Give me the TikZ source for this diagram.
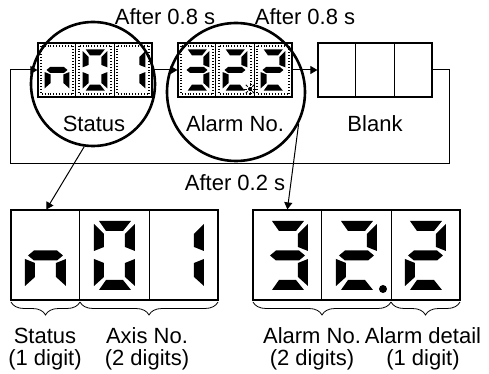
\documentclass[tikz,border=0pt]{standalone}
\usepackage{fontspec}
\setmainfont{Liberation Sans}
\usetikzlibrary{arrows.meta,positioning,calc,decorations.pathreplacing}

% seven segments, digit box 41 x 69 (y runs down)
\newcommand{\lcdsega}{(5,0) -- (37,0) -- (29,10) -- (12,10) -- cycle}
\newcommand{\lcdsegb}{(41,3) -- (41,30) -- (31,26) -- (31,13) -- cycle}
\newcommand{\lcdsegc}{(41,38) -- (41,65) -- (31,56) -- (31,42) -- cycle}
\newcommand{\lcdsegd}{(5,69) -- (37,69) -- (29,59) -- (12,59) -- cycle}
\newcommand{\lcdsege}{(0,38) -- (0,65) -- (10,56) -- (10,42) -- cycle}
\newcommand{\lcdsegf}{(0,3) -- (0,30) -- (10,26) -- (10,13) -- cycle}
\newcommand{\lcdsegg}{(3,34.5) -- (9,29.5) -- (32,29.5) -- (38,34.5) -- (32,39.5) -- (9,39.5) -- cycle}

\newcommand{\bigdigit}[3]{%
  \begin{scope}[shift={(#1,#2)}]
    \foreach \s in {#3}{\expandafter\fill\csname lcdseg\s\endcsname;}
  \end{scope}}
\newcommand{\smalldigit}[3]{%
  \begin{scope}[shift={(#1,#2)},scale=0.6]
    \draw[blink] (-6,-6) rectangle (47,75);
    \foreach \s in {#3}{\expandafter\fill\csname lcdseg\s\endcsname;}
  \end{scope}}

\begin{document}
\begin{tikzpicture}[x=0.5pt,y=-0.5pt,font=\fontsize{11}{11}\selectfont,
    lcd/.style={draw,line width=0.6pt,minimum width=57pt,minimum height=27pt,inner sep=0pt},
    biglcd/.style={draw,line width=0.6pt,minimum width=103.5pt,minimum height=45pt,inner sep=0pt},
    ring/.style={draw,circle,line width=1.3pt,inner sep=0pt},
    flow/.style={line width=0.5pt,-{Triangle[length=3.5pt,width=4pt]}},
    blink/.style={line width=0.9pt,dash pattern=on 0.35pt off 1.1pt},
    span/.style={decorate,decoration={brace,amplitude=6.5pt},line width=0.4pt}]
  \useasboundingbox (0,0) rectangle (489,374);

  % displays
  \node[lcd] (disp1) at (95,70) {};
  \node[lcd] (disp2) at (235,70) {};
  \node[lcd] (disp3) at (375,70) {};
  \node[biglcd] (big1) at (114.5,255) {};
  \node[biglcd] (big2) at (356.5,255) {};
  \foreach \d in {disp1,disp2,disp3,big1,big2}{
    \draw[line width=0.6pt] ($(\d.north west)!1/3!(\d.north east)$) -- ($(\d.south west)!1/3!(\d.south east)$)
      ($(\d.north west)!2/3!(\d.north east)$) -- ($(\d.south west)!2/3!(\d.south east)$);}

  % flashing digits
  \smalldigit{44.7}{49.3}{c,e,g}
  \smalldigit{82.7}{49.3}{a,b,c,d,e,f}
  \smalldigit{120.7}{49.3}{b,c}
  \smalldigit{184.7}{49.3}{a,b,c,d,g}
  \smalldigit{222.7}{49.3}{a,b,g,e,d}
  \smalldigit{260.7}{49.3}{a,b,g,e,d}
  \fill (250,89) circle (1pt);
  \foreach \a in {0,45,...,315}
    \draw[line width=0.4pt] (250,89) ++(\a:1.6pt) -- ++(\a:1.4pt);

  % lit digits
  \bigdigit{25}{221}{c,e,g}
  \bigdigit{94}{221}{a,b,c,d,e,f}
  \bigdigit{163}{221}{b,c}
  \bigdigit{267}{221}{a,b,c,d,g}
  \bigdigit{336}{221}{a,b,g,e,d}
  \bigdigit{405}{221}{a,b,g,e,d}
  \fill (383,289) circle (2pt);

  % magnifiers
  \node[ring,minimum size=62pt] (ring1) at (93,84) {};
  \node[ring,minimum size=69pt] (ring2) at (236,92) {};

  % sequence
  \draw[flow] (disp1.east) -- (disp2.west);
  \draw[flow] (disp2.east) -- (disp3.west);
  \draw[flow] (disp3.east) -- ++(17,0) -- ++(0,94) -| ([xshift=-13.5pt]disp1.west) -- (disp1.west);
  \draw[flow] (ring1.262) -- ([xshift=18pt]big1.north west);
  \draw[flow] (ring2.-27) -- ([xshift=17.5pt]big2.north west);

  \node (wait1) at (165,17) {After 0.8 s};
  \node (wait2) at (305,17) {After 0.8 s};
  \node (wait3) at (235,183) {After 0.2 s};
  \node (lstatus) at (94,124) {Status};
  \node (lalarm) at (235,124) {Alarm No.};
  \node (lblank) at (375,124) {Blank};

  % digit groups
  \draw[span] (80,302) -- (11,302);
  \draw[span] (218,302) -- (80,302);
  \draw[span] (391,302) -- (253,302);
  \draw[span] (460,302) -- (391,302);
  \node[align=center] (gstatus) at (45,349) {Status\\(1 digit)};
  \node[align=center] (gaxis) at (147,349) {Axis No.\\(2 digits)};
  \node[align=center] (galarm) at (312,349) {Alarm No.\\(2 digits)};
  \node[align=center] (gdetail) at (423,349) {Alarm detail\\(1 digit)};
\end{tikzpicture}
\end{document}
